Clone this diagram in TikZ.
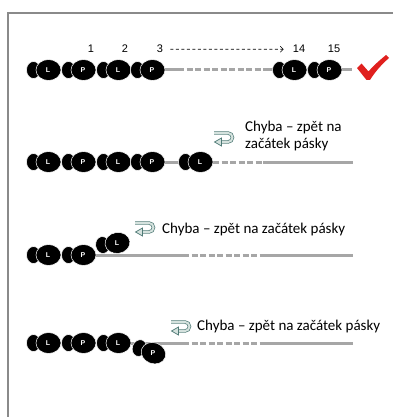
\documentclass[tikz,border=0pt]{standalone}
\usepackage{fontspec}
\setmainfont{Carlito}
\newfontfamily\numfont{Liberation Sans}
\usetikzlibrary{arrows.meta}
\definecolor{tapegray}{HTML}{A6A6A6}
\definecolor{framegray}{HTML}{8A8A8A}
\definecolor{iconline}{HTML}{4F7A76}
\definecolor{iconfill}{HTML}{D5E2DE}
\definecolor{tickred}{HTML}{E0201E}
\tikzset{
  tape/.style={draw=tapegray, line width=3pt},
  tapedash/.style={tape, dash pattern=on 6pt off 2.5pt},
  footletter/.style={text=white, font=\numfont\bfseries\fontsize{7}{7}\selectfont, inner sep=0pt},
  stepnum/.style={font=\numfont\fontsize{11}{11}\selectfont, anchor=base, inner sep=0pt},
  errtext/.style={font=\fontsize{15}{15}\selectfont, anchor=base west, inner sep=0pt},
  uturnline/.style={draw=iconline, line width=0.7pt, double=iconfill, double distance=2pt},
}
% one footprint: name, x, y, tilt, letter
\newcommand\stepfoot[5]{%
  \begin{scope}[shift={(#2,#3)},rotate=#4]
    \fill[black, draw=white, line width=0.5pt] (-14.5,0) ellipse[x radius=7, y radius=8.5];
    \fill[black, draw=white, line width=0.5pt] (0.5,0) ellipse[x radius=12.5, y radius=10.5];
    \node[footletter] (#1) at (0,0) {#5};
  \end{scope}}
% turn-back arrow icon, top-left corner at (#1,#2)
\newcommand\uturn[2]{%
  \begin{scope}[shift={(#1,#2)}]
    \draw[uturnline] (1,2) -- (15,2) arc[start angle=-90, end angle=90, radius=4.5] -- (8,11);
    \filldraw[draw=iconline, fill=iconfill, line width=0.7pt] (8.5,7) -- (1.5,11) -- (8.5,15) -- cycle;
  \end{scope}}
\begin{document}
\begin{tikzpicture}[x=1pt, y=-1pt]
\useasboundingbox (0,0) rectangle (393,417);
\fill[white] (0,0) rectangle (393,417);
% frame
\draw[framegray, line width=1.2pt] (8,417) -- (8,13) -- (393,13);

% ---------- row 1: complete walk ----------
\coordinate (r1a) at (152,70); \coordinate (r1b) at (178,70);
\coordinate (r1c) at (268,70); \coordinate (r1d) at (352,70);
\draw[tape] (r1a) -- (r1b);
\draw[tapedash] (r1b) -- (r1c);
\draw[tape] (r1c) -- (r1d);
\stepfoot{f1a}{48}{70}{0}{L}
\stepfoot{f1b}{83}{70}{0}{P}
\stepfoot{f1c}{118}{70}{0}{L}
\stepfoot{f1d}{152}{70}{0}{P}
\stepfoot{f1e}{294}{70}{0}{L}
\stepfoot{f1f}{329}{70}{0}{P}
\node[stepnum] (n1) at (91,53) {1};
\node[stepnum] (n2) at (125,53) {2};
\node[stepnum] (n3) at (160,53) {3};
\node[stepnum] (n14) at (299,53) {14};
\node[stepnum] (n15) at (334,53) {15};
\draw[line width=0.6pt, dash pattern=on 3pt off 2.5pt, -{Straight Barb[length=3pt, width=6pt]}]
  ([xshift=7pt]n3.east) -- ([xshift=-9pt]n14.west);
% tick
\fill[tickred] (357,68) -- (361.5,63.5) -- (368.5,71.5) .. controls (374,65) and (380,60) .. (386,55)
  -- (389,58) .. controls (381,65) and (375,72) .. (370,80) -- (366.5,80) -- cycle;

% ---------- row 2 ----------
\coordinate (r2a) at (152,162); \coordinate (r2b) at (213,162);
\coordinate (r2c) at (263,162); \coordinate (r2d) at (353,162);
\draw[tape] (r2a) -- (r2b);
\draw[tapedash] (r2b) -- (r2c);
\draw[tape] (r2c) -- (r2d);
\stepfoot{f2a}{48}{162}{0}{L}
\stepfoot{f2b}{83}{162}{0}{P}
\stepfoot{f2c}{118}{162}{0}{L}
\stepfoot{f2d}{152}{162}{0}{P}
\stepfoot{f2e}{200}{162}{0}{L}
\uturn{213}{131}
\node[errtext] (e2a) at (245,131) {Chyba – zpět na};
\node[errtext] (e2b) at (245,148) {začátek pásky};

% ---------- row 3 ----------
\coordinate (r3a) at (83,255); \coordinate (r3b) at (183,255);
\coordinate (r3c) at (265,255); \coordinate (r3d) at (353,255);
\draw[tape] (r3a) -- (r3b);
\draw[tapedash] (r3b) -- (r3c);
\draw[tape] (r3c) -- (r3d);
\stepfoot{f3a}{48}{255}{0}{L}
\stepfoot{f3b}{83}{255}{0}{P}
\stepfoot{f3c}{117}{243}{8}{L}
\uturn{134}{221}
\node[errtext] (e3) at (162,233) {Chyba – zpět na začátek pásky};

% ---------- row 4 ----------
\coordinate (r4a) at (118,343); \coordinate (r4b) at (183,343);
\coordinate (r4c) at (265,343); \coordinate (r4d) at (353,343);
\draw[tape] (r4a) -- (r4b);
\draw[tapedash] (r4b) -- (r4c);
\draw[tape] (r4c) -- (r4d);
\stepfoot{f4a}{48}{343}{0}{L}
\stepfoot{f4b}{83}{343}{0}{P}
\stepfoot{f4c}{118}{343}{0}{L}
\stepfoot{f4d}{153}{353}{-20}{P}
\uturn{170}{320}
\node[errtext] (e4) at (197,330) {Chyba – zpět na začátek pásky};
\end{tikzpicture}
\end{document}
